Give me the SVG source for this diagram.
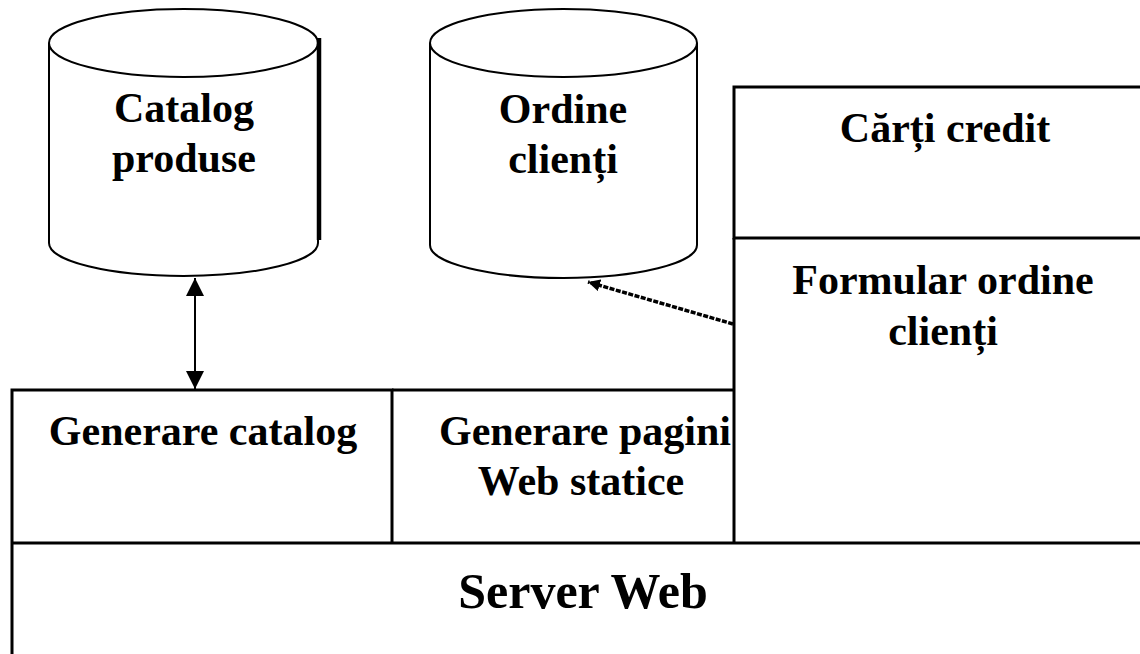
<svg xmlns="http://www.w3.org/2000/svg" width="1140" height="654" viewBox="0 0 1140 654">
<style>
.ln{fill:none;stroke:#000;stroke-width:3}
.cyl{fill:#fff;stroke:#000;stroke-width:2}
.t{font-family:"Liberation Serif","Times New Roman",serif;font-weight:bold;font-size:42px;fill:#000;text-anchor:middle}
.big{font-size:50px}
</style>
<defs>
<marker id="ah" viewBox="0 0 10 10" refX="10" refY="5" markerWidth="12" markerHeight="12" markerUnits="userSpaceOnUse" orient="auto-start-reverse">
<path d="M0,0 L10,5 L0,10 z" fill="#000"/>
</marker>
<marker id="ahb" viewBox="0 0 10 10" refX="10" refY="5" markerWidth="18" markerHeight="24" markerUnits="userSpaceOnUse" orient="auto-start-reverse">
<path d="M0,0 L10,5 L0,10 z" fill="#000"/>
</marker>
</defs>
<rect width="1140" height="654" fill="#fff"/>

<g id="catalog-produse">
<path class="cyl" d="M49,43 L49,243 A134.5,33 0 0 0 318,243 L318,43"/>
<ellipse class="cyl" cx="183.5" cy="43" rx="134.5" ry="34"/>
<line x1="319" y1="38" x2="319" y2="240" stroke="#000" stroke-width="4.5"/>
<text class="t" x="184" y="122">Catalog</text>
<text class="t" x="184" y="172">produse</text>
</g>

<g id="ordine-clienti">
<path class="cyl" d="M430,43 L430,245 A133.5,33 0 0 0 697,245 L697,43"/>
<ellipse class="cyl" cx="563.5" cy="43" rx="133.5" ry="34"/>
<text class="t" x="563" y="123">Ordine</text>
<text class="t" x="563" y="173">clienți</text>
</g>

<g id="carti-credit">
<path class="ln" d="M1141,87 L734,87 L734,238 L1141,238"/>
<text class="t" x="945" y="142">Cărți credit</text>
</g>

<g id="formular-ordine">
<path class="ln" d="M734,238 L734,543"/>
<text class="t" x="943" y="294">Formular ordine</text>
<text class="t" x="943" y="345">clienți</text>
</g>

<g id="generare-catalog">
<path class="ln" d="M12,656 L12,390 L392,390 L392,543"/>
<text class="t" x="203" y="445">Generare catalog</text>
</g>

<g id="generare-pagini">
<path class="ln" d="M392,390 L734,390"/>
<text class="t" x="585" y="445">Generare pagini</text>
<text class="t" x="581" y="495">Web statice</text>
</g>

<g id="server-web">
<path class="ln" d="M12,543 L1141,543"/>
<text class="t big" x="583" y="608">Server Web</text>
</g>

<g id="connectors">
<line x1="195" y1="278" x2="195" y2="389" stroke="#000" stroke-width="2" marker-start="url(#ahb)" marker-end="url(#ahb)"/>
<line x1="733" y1="324" x2="588" y2="282" stroke="#000" stroke-width="3.5" stroke-dasharray="5 1.5" marker-end="url(#ah)"/>
</g>
</svg>
